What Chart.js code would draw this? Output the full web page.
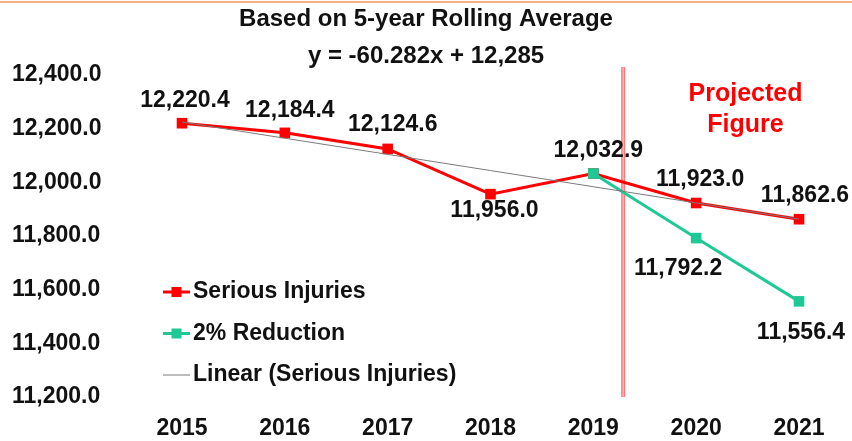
<!DOCTYPE html>
<html>
<head>
<meta charset="utf-8">
<script src="https://cdn.jsdelivr.net/npm/chart.js@4.4.0/dist/chart.umd.min.js"></script>
<style>
    html, body { margin: 0; padding: 0; background: #fff; }
    #wrap { position: relative; width: 852px; height: 441px; }
    #wrap::before { content: ''; position: absolute; left: 0; right: 0; top: 1px; height: 2px; background: #f8b184; }
    canvas { display: block; }
</style>
</head>
<body>
<div id="wrap"><canvas id="chart" width="852" height="441"></canvas></div>
<script>
// Chart data
const years = [2015, 2016, 2017, 2018, 2019, 2020, 2021];
const seriousInjuries = [12220.4, 12184.4, 12124.6, 11956.0, 12032.9, 11923.0, 11862.6];
const reductionYears = [2019, 2020, 2021];
const reduction = [12032.9, 11792.2, 11556.4];
// trend line (y = -60.282x + 12,285)
const linearTrend = [12224.7, 12164.4, 12104.2, 12043.9, 11983.6, 11923.3, 11863.0];
const yMin = 11200, yMax = 12400, yStep = 200;
const projectionYear = 2019.29;
const titleLines = ['Based on 5-year Rolling Average', 'y = -60.282x + 12,285'];
const projectedText = ['Projected', 'Figure'];

const FONT = '"Liberation Sans", Arial, Helvetica, sans-serif';
Chart.defaults.font.family = FONT;
Chart.defaults.color = '#111';

const fmt = (v) => v.toLocaleString('en-US', { minimumFractionDigits: 1, maximumFractionDigits: 1 });
const toPoints = (xs, ys) => ys.map((v, i) => ({ x: xs[i], y: v }));

// Two-line title centred on the whole canvas
const topTitle = {
    id: 'topTitle',
    afterDraw(chart) {
        const ctx = chart.ctx;
        ctx.save();
        ctx.font = 'bold 24px ' + FONT;
        ctx.fillStyle = '#111';
        ctx.textAlign = 'center';
        ctx.textBaseline = 'middle';
        titleLines.forEach((t, i) => ctx.fillText(t, chart.width / 2, 19 + i * 37));
        ctx.restore();
    }
};

// Value labels next to the markers
const valueLabels = {
    id: 'valueLabels',
    afterDatasetsDraw(chart, args, opts) {
        const ctx = chart.ctx;
        ctx.save();
        ctx.font = 'bold 23px ' + FONT;
        ctx.fillStyle = '#111';
        ctx.textAlign = 'center';
        ctx.textBaseline = 'middle';
        opts.offsets.forEach((offs, di) => {
            if (!offs) return;
            const meta = chart.getDatasetMeta(di);
            meta.data.forEach((pt, i) => {
                const o = offs[i];
                if (!o) return;
                ctx.fillText(fmt(chart.data.datasets[di].data[i].y), pt.x + o[0], pt.y + o[1]);
            });
        });
        ctx.restore();
    }
};

// Projection divider and caption
const projection = {
    id: 'projection',
    beforeDatasetsDraw(chart) {
        const { ctx, chartArea, scales } = chart;
        const x = scales.x.getPixelForValue(projectionYear);
        ctx.save();
        ctx.strokeStyle = '#ff7878';
        ctx.lineWidth = 4;
        ctx.beginPath();
        ctx.moveTo(x, chartArea.top - 8);
        ctx.lineTo(x, chartArea.bottom);
        ctx.stroke();
        ctx.strokeStyle = '#ffd6d6';
        ctx.lineWidth = 1;
        ctx.stroke();
        ctx.restore();
    },
    afterDraw(chart) {
        const { ctx, scales } = chart;
        ctx.save();
        ctx.font = 'bold 25px ' + FONT;
        ctx.fillStyle = '#ff0000';
        ctx.textAlign = 'center';
        ctx.textBaseline = 'middle';
        const cx = scales.x.getPixelForValue(2020.48);
        ctx.fillText(projectedText[0], cx, scales.y.getPixelForValue(12330));
        ctx.fillText(projectedText[1], cx, scales.y.getPixelForValue(12215));
        ctx.restore();
    }
};

// Legend drawn inside the plot area
const insideLegend = {
    id: 'insideLegend',
    afterDraw(chart, args, opts) {
        const ctx = chart.ctx;
        ctx.save();
        ctx.font = 'bold 23px ' + FONT;
        ctx.textBaseline = 'middle';
        ctx.textAlign = 'left';
        opts.order.forEach((di, row) => {
            const ds = chart.data.datasets[di];
            const y = opts.y + row * opts.rowGap;
            ctx.strokeStyle = ds.borderColor;
            ctx.lineWidth = ds.borderWidth;
            ctx.beginPath();
            ctx.moveTo(opts.x, y);
            ctx.lineTo(opts.x + 27, y);
            ctx.stroke();
            if (ds.pointRadius > 0) {
                ctx.fillStyle = ds.pointBackgroundColor;
                ctx.fillRect(opts.x + 13.5 - 5, y - 5, 10, 10);
            }
            ctx.fillStyle = '#111';
            ctx.fillText(ds.label, opts.x + 30, y);
        });
        ctx.restore();
    }
};

new Chart(document.getElementById('chart'), {
    type: 'line',
    data: {
        datasets: [
            {
                label: 'Linear (Serious Injuries)',
                data: toPoints(years, linearTrend),
                borderColor: '#7a7a7a',
                borderWidth: 1,
                pointRadius: 0,
                clip: false,
                order: 0
            },
            {
                label: '2% Reduction',
                data: toPoints(reductionYears, reduction),
                borderColor: '#1ec995',
                backgroundColor: '#1ec995',
                pointBackgroundColor: '#1ec995',
                pointBorderColor: '#1ec995',
                borderWidth: 3,
                pointStyle: 'rect',
                pointRadius: 7.5,
                pointBorderWidth: 0,
                clip: false,
                order: 1
            },
            {
                label: 'Serious Injuries',
                data: toPoints(years, seriousInjuries),
                borderColor: '#ff0000',
                backgroundColor: '#ff0000',
                pointBackgroundColor: '#ff0000',
                pointBorderColor: '#ff0000',
                borderWidth: 3,
                pointStyle: 'rect',
                pointRadius: 7.5,
                pointBorderWidth: 0,
                clip: false,
                order: 2
            }
        ]
    },
    options: {
        responsive: false,
        animation: false,
        layout: { padding: { left: 12, right: 53, top: 75, bottom: 0 } },
        plugins: {
            legend: { display: false },
            tooltip: { enabled: false },
            title: { display: false },
            valueLabels: {
                offsets: [
                    null,
                    [null, [-18, 31], [2, 31]],
                    [[3, -23], [5, -22], [5, -24], [4, 17], [5, -23], [4, -23], [6, -24]]
                ]
            },
            insideLegend: { x: 163, y: 292, rowGap: 41.5, order: [2, 1, 0] }
        },
        scales: {
            x: {
                type: 'linear',
                min: years[0],
                max: years[years.length - 1],
                grid: { display: false, drawTicks: false },
                border: { display: false },
                afterFit: (axis) => { axis.height = 44; },
                ticks: {
                    stepSize: 1,
                    padding: 18,
                    color: '#111',
                    font: { size: 23, weight: 'bold' },
                    callback: (v) => String(v)
                }
            },
            y: {
                min: yMin,
                max: yMax,
                grid: { display: false, drawTicks: false },
                border: { display: false },
                afterFit: (axis) => { axis.width = 170; },
                ticks: {
                    stepSize: yStep,
                    padding: 3,
                    crossAlign: 'far',
                    color: '#111',
                    font: { size: 23, weight: 'bold' },
                    callback: (v) => fmt(v)
                }
            }
        }
    },
    plugins: [projection, valueLabels, insideLegend, topTitle]
});
</script>
</body>
</html>
